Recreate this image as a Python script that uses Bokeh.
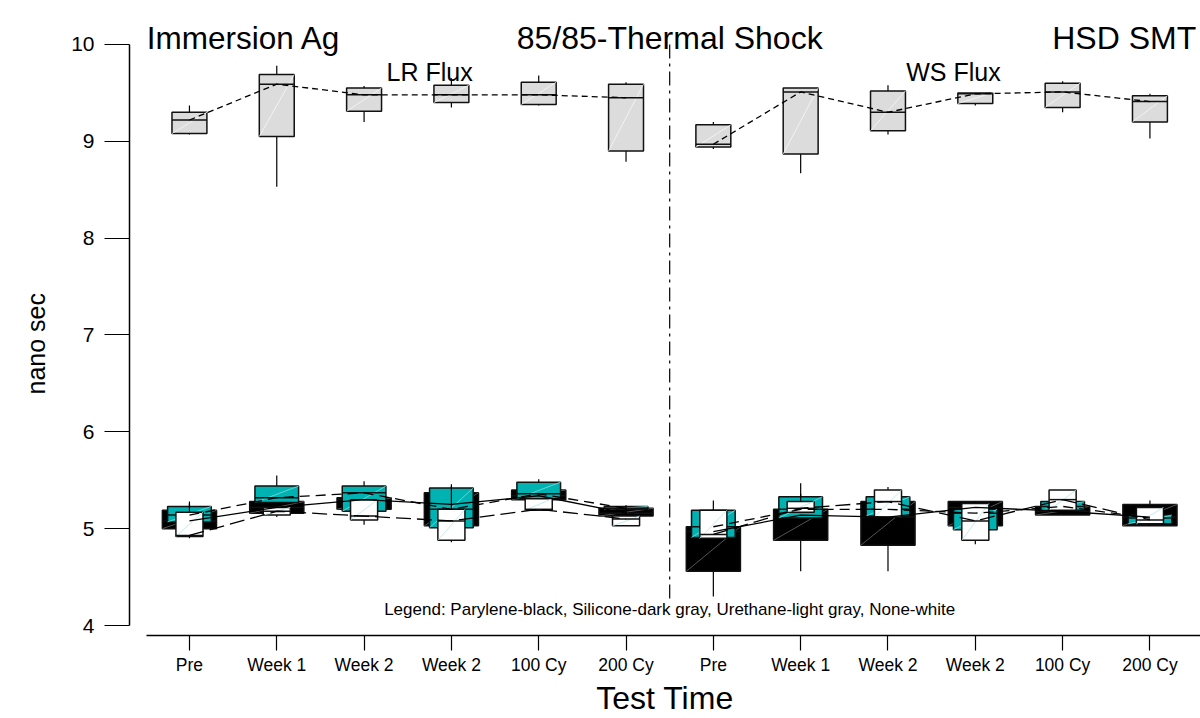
from bokeh.plotting import figure
from bokeh.models import Range1d, FixedTicker, Title
from bokeh.core.properties import value
from bokeh.embed import file_html
from bokeh.resources import INLINE

# ---------------- data ----------------
tick_labels = ["Pre", "Week 1", "Week 2", "Week 2", "100 Cy", "200 Cy",
               "Pre", "Week 1", "Week 2", "Week 2", "100 Cy", "200 Cy"]
positions = list(range(12))
group_names = ["LR Flux", "WS Flux"]

# each series: whisker low, Q1, median, Q3, whisker high (nano sec)
# Parylene (black)
par_lo  = [5.00, 5.16, 5.20, 5.03, 5.30, 5.13, 4.30, 4.56, 4.56, 5.03, 5.14, 5.03]
par_q1  = [5.00, 5.16, 5.20, 5.03, 5.30, 5.13, 4.56, 4.88, 4.83, 5.03, 5.14, 5.03]
par_med = [5.08, 5.22, 5.30, 5.25, 5.34, 5.16, 4.97, 5.14, 5.12, 5.22, 5.18, 5.12]
par_q3  = [5.19, 5.28, 5.32, 5.37, 5.40, 5.21, 5.02, 5.20, 5.28, 5.28, 5.23, 5.25]
par_hi  = [5.19, 5.28, 5.32, 5.37, 5.40, 5.21, 5.02, 5.20, 5.28, 5.28, 5.23, 5.29]

# Silicone (dark gray / teal)
sil_lo  = [5.05, 5.26, 5.16, 5.00, 5.30, 5.19, 4.90, 5.10, 5.12, 4.98, 5.18, 5.04]
sil_q1  = [5.07, 5.27, 5.18, 5.01, 5.31, 5.20, 4.91, 5.11, 5.13, 4.99, 5.19, 5.05]
sil_med = [5.14, 5.32, 5.37, 5.20, 5.36, 5.21, 5.02, 5.20, 5.20, 5.16, 5.23, 5.11]
sil_q3  = [5.23, 5.44, 5.44, 5.42, 5.48, 5.23, 5.19, 5.33, 5.33, 5.20, 5.28, 5.14]
sil_hi  = [5.26, 5.55, 5.49, 5.44, 5.51, 5.24, 5.20, 5.36, 5.36, 5.22, 5.29, 5.15]

# Urethane (light gray)
ure_lo  = [9.07, 8.53, 9.20, 9.35, 9.37, 8.79, 8.92, 8.67, 9.07, 9.37, 9.30, 9.03]
ure_q1  = [9.08, 9.05, 9.31, 9.40, 9.38, 8.90, 8.94, 8.87, 9.11, 9.39, 9.35, 9.20]
ure_med = [9.22, 9.59, 9.48, 9.48, 9.48, 9.45, 8.97, 9.51, 9.30, 9.49, 9.51, 9.41]
ure_q3  = [9.30, 9.69, 9.55, 9.58, 9.61, 9.59, 9.17, 9.55, 9.52, 9.50, 9.60, 9.47]
ure_hi  = [9.37, 9.78, 9.57, 9.65, 9.68, 9.61, 9.20, 9.55, 9.58, 9.50, 9.62, 9.49]

# None (white)
non_lo  = [4.90, 5.12, 5.04, 4.86, 5.19, 5.03, 4.90, 5.17, 5.12, 4.84, 5.19, 5.03]
non_q1  = [4.92, 5.14, 5.09, 4.88, 5.19, 5.03, 4.90, 5.17, 5.12, 4.88, 5.19, 5.05]
non_med = [4.93, 5.18, 5.13, 5.08, 5.20, 5.10, 4.94, 5.21, 5.28, 5.08, 5.30, 5.09]
non_q3  = [5.17, 5.22, 5.30, 5.20, 5.31, 5.13, 5.19, 5.28, 5.40, 5.26, 5.40, 5.22]
non_hi  = [5.28, 5.22, 5.30, 5.46, 5.31, 5.24, 5.29, 5.47, 5.43, 5.28, 5.40, 5.22]

# ---------------- styling ----------------
FONT = "Liberation Sans"
series = [
    # name, data, fill, box width, diagonal colour, line dash
    ("Parylene", (par_lo, par_q1, par_med, par_q3, par_hi), "#000000", 0.62, "#6a6a6a", "solid"),
    ("Silicone", (sil_lo, sil_q1, sil_med, sil_q3, sil_hi), "#00b2b2", 0.50, "#7fdede", "10 6"),
    ("Urethane", (ure_lo, ure_q1, ure_med, ure_q3, ure_hi), "#dcdcdc", 0.40, "#f7f7f7", "6 4"),
    ("None",     (non_lo, non_q1, non_med, non_q3, non_hi), "#ffffff", 0.31, "#b8e6e6", "15 6"),
]

p = figure(width=1200, height=718, output_backend="svg", toolbar_location=None,
           x_range=Range1d(-0.6865, 11.579), y_range=Range1d(3.897, 10.454),
           min_border_left=128, min_border_right=0, min_border_top=0,
           min_border_bottom=82, background_fill_color="white",
           border_fill_color="white")
p.outline_line_color = None
p.xgrid.visible = False
p.ygrid.visible = False

# boxes
for name, (lo, q1, med, q3, hi), fill, w, diag, dash in series:
    p.segment(x0=positions, y0=q3, x1=positions, y1=hi, line_color="black", line_width=1.2)
    p.segment(x0=positions, y0=lo, x1=positions, y1=q1, line_color="black", line_width=1.2)
    p.vbar(x=positions, width=w, bottom=q1, top=q3, fill_color=fill,
           line_color="#111111", line_width=1.5)
    p.segment(x0=[x - w / 2 for x in positions], y0=q1,
              x1=[x + w / 2 for x in positions], y1=q3,
              line_color=diag, line_width=0.8)
    p.segment(x0=[x - w / 2 for x in positions], y0=med,
              x1=[x + w / 2 for x in positions], y1=med,
              line_color="#111111", line_width=1.5)

# median-connecting lines (each flux group separately)
for name, (lo, q1, med, q3, hi), fill, w, diag, dash in series:
    for g in range(2):
        xs = positions[g * 6:(g + 1) * 6]
        ys = med[g * 6:(g + 1) * 6]
        p.line(xs, ys, line_color="black", line_width=1.3, line_dash=dash)

# group divider
p.line([5.5, 5.5], [4.28, 10.0], line_color="black", line_width=1.2,
       line_dash="14 5 3 5")

# texts
p.text(x=[-0.49], y=[10.062], text=["Immersion Ag"], text_font=value(FONT),
       text_font_size="31.5px", text_align="left", text_baseline="alphabetic",
       text_color="black")
p.text(x=[5.5], y=[10.062], text=["85/85-Thermal Shock"], text_font=value(FONT),
       text_font_size="32px", text_align="center", text_baseline="alphabetic",
       text_color="black")
p.text(x=[11.53], y=[10.062], text=["HSD SMT"], text_font=value(FONT),
       text_font_size="32px", text_align="right", text_baseline="alphabetic",
       text_color="black")
p.text(x=[2.75, 8.75], y=[9.711, 9.711], text=group_names, text_font=value(FONT),
       text_font_size="25px", text_align="center", text_baseline="alphabetic",
       text_color="black")
p.text(x=[5.5], y=[4.165], text=["Legend: Parylene-black, Silicone-dark gray, Urethane-light gray, None-white"],
       text_font=value(FONT), text_font_size="17px", text_align="center",
       text_baseline="middle", text_color="black")

# y axis title, placed beside the bounded axis
ytitle = Title(text="nano sec", align="left", offset=241, standoff=38,
               text_font=FONT, text_font_size="25px", text_font_style="normal",
               text_color="black")
p.add_layout(ytitle, "left")

# axes
ya = p.yaxis[0]
ya.ticker = FixedTicker(ticks=[4, 5, 6, 7, 8, 9, 10])
ya.bounds = (4, 10)
ya.minor_tick_line_color = None
ya.major_tick_out = 25
ya.major_tick_in = 0
ya.major_label_standoff = 10
ya.major_label_text_font = FONT
ya.major_label_text_font_size = "21px"
ya.major_label_text_color = "black"
ya.axis_line_width = 1.5
ya.major_tick_line_width = 1.2

xa = p.xaxis[0]
xa.ticker = FixedTicker(ticks=positions)
xa.major_label_overrides = {i: lab for i, lab in enumerate(tick_labels)}
xa.bounds = (-0.49, 11.579)
xa.minor_tick_line_color = None
xa.major_tick_out = 15
xa.major_tick_in = 0
xa.major_label_standoff = 4
xa.major_label_text_font = FONT
xa.major_label_text_font_size = "17.5px"
xa.major_label_text_color = "black"
xa.axis_line_width = 1.5
xa.major_tick_line_width = 1.2
xa.axis_label = "Test Time"
xa.axis_label_text_font = FONT
xa.axis_label_text_font_size = "32px"
xa.axis_label_text_font_style = "normal"
xa.axis_label_text_color = "black"
xa.axis_label_standoff = 2

open("out.html", "w").write(file_html(p, INLINE))
